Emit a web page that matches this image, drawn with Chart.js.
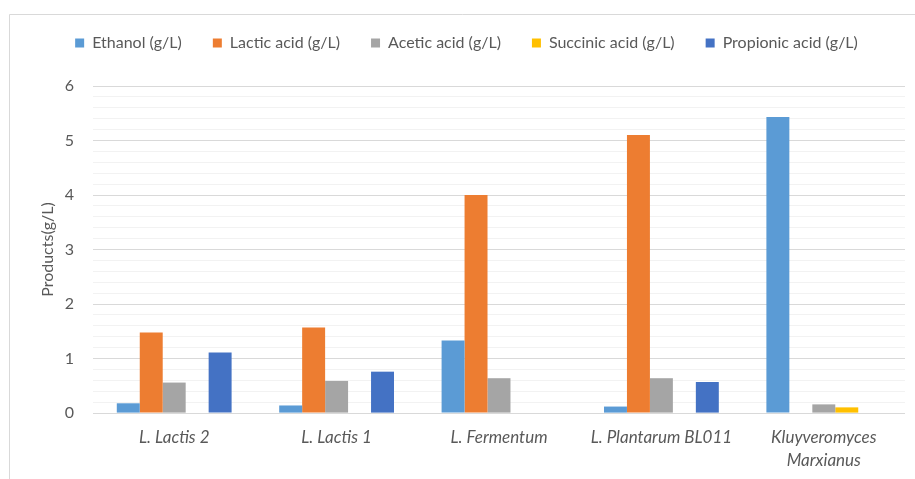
<!DOCTYPE html>
<html>
<head>
<meta charset="utf-8">
<script src="https://cdn.jsdelivr.net/npm/chart.js@4"></script>
<style>
  html, body { margin: 0; padding: 0; background: #fff; }
  #wrap { width: 915px; height: 479px; position: relative; }
</style>
</head>
<body>
<div id="wrap"><canvas id="c" width="915" height="479"></canvas></div>
<script>
const categories = ['L. Lactis 2', 'L. Lactis 1', 'L. Fermentum', 'L. Plantarum BL011', ['Kluyveromyces', 'Marxianus']];
const ethanol   = [0.18, 0.14, 1.33, 0.12, 5.43];
const lactic    = [1.48, 1.57, 4.00, 5.10, 0];
const acetic    = [0.56, 0.59, 0.64, 0.64, 0.16];
const succinic  = [0, 0, 0, 0, 0.105];
const propionic = [1.11, 0.76, 0, 0.57, 0];
const seriesNames = ['Ethanol (g/L)', 'Lactic acid (g/L)', 'Acetic acid (g/L)', 'Succinic acid (g/L)', 'Propionic acid (g/L)'];
const yTicks = [0, 1, 2, 3, 4, 5, 6];

const colors = ['#5B9BD5', '#ED7D31', '#A5A5A5', '#FFC000', '#4472C4'];
const values = [ethanol, lactic, acetic, succinic, propionic];
const FONT = 'Lato, "Open Sans", sans-serif';
const TXT = '#595959';
const EXTRA_LEGEND_GAP = 25;
const LEGEND_SHIFT_X = 14;

const framePlugin = {
  id: 'frame',
  beforeInit(chart) {
    const lg = chart.legend;
    if (lg) {
      const fit = lg.fit;
      lg.fit = function () { fit.call(this); this.height += EXTRA_LEGEND_GAP; };
    }
  },
  afterLayout(chart) {
    const lg = chart.legend;
    if (lg) { lg.left += LEGEND_SHIFT_X; lg.right += LEGEND_SHIFT_X; }
  },
  beforeDraw(chart) {
    const ctx = chart.ctx;
    ctx.save();
    ctx.fillStyle = '#fff';
    ctx.fillRect(0, 0, chart.width, chart.height);
    ctx.strokeStyle = '#d9d9d9';
    ctx.lineWidth = 1;
    ctx.beginPath();
    ctx.moveTo(9.5, chart.height);
    ctx.lineTo(9.5, 14.5);
    ctx.lineTo(chart.width, 14.5);
    ctx.stroke();
    ctx.restore();
  }
};

new Chart(document.getElementById('c'), {
  type: 'bar',
  data: {
    labels: categories,
    datasets: seriesNames.map((n, i) => ({
      label: n,
      data: values[i],
      backgroundColor: colors[i],
      borderWidth: 0,
      categoryPercentage: 0.707,
      barPercentage: 1.0
    }))
  },
  options: {
    responsive: false,
    animation: false,
    devicePixelRatio: 1,
    layout: { padding: { left: 0, right: 10, top: 4, bottom: -6 } },
    plugins: {
      tooltip: { enabled: false },
      legend: {
        position: 'top',
        labels: {
          boxWidth: 9,
          boxHeight: 9,
          padding: 31,
          color: TXT,
          font: { family: FONT, size: 16 }
        }
      }
    },
    scales: {
      x: {
        grid: { display: false, drawTicks: false },
        border: { display: false },
        ticks: {
          color: TXT,
          padding: 13,
          maxRotation: 0,
          autoSkip: false,
          font: { family: FONT, size: 17, style: 'italic', lineHeight: 1.35 }
        }
      },
      y: {
        min: 0,
        max: 6,
        afterFit(scale) { scale.width = 93; },
        border: { display: false },
        grid: {
          drawTicks: false,
          color(ctx) {
            const v = ctx.tick ? ctx.tick.value : 0;
            return Math.abs(v - Math.round(v)) < 1e-6 ? '#d9d9d9' : '#f2f2f2';
          },
          lineWidth: 1
        },
        ticks: {
          stepSize: 0.2,
          autoSkip: false,
          padding: 19,
          color: TXT,
          font: { family: FONT, size: 16 },
          callback(v) {
            const r = Math.round(v);
            return (Math.abs(v - r) < 1e-6 && yTicks.includes(r)) ? String(r) : '';
          }
        },
        title: {
          display: true,
          text: 'Products(g/L)',
          color: TXT,
          font: { family: FONT, size: 16 },
          padding: { top: 38, bottom: 0 }
        }
      }
    }
  },
  plugins: [framePlugin]
});
</script>
</body>
</html>
